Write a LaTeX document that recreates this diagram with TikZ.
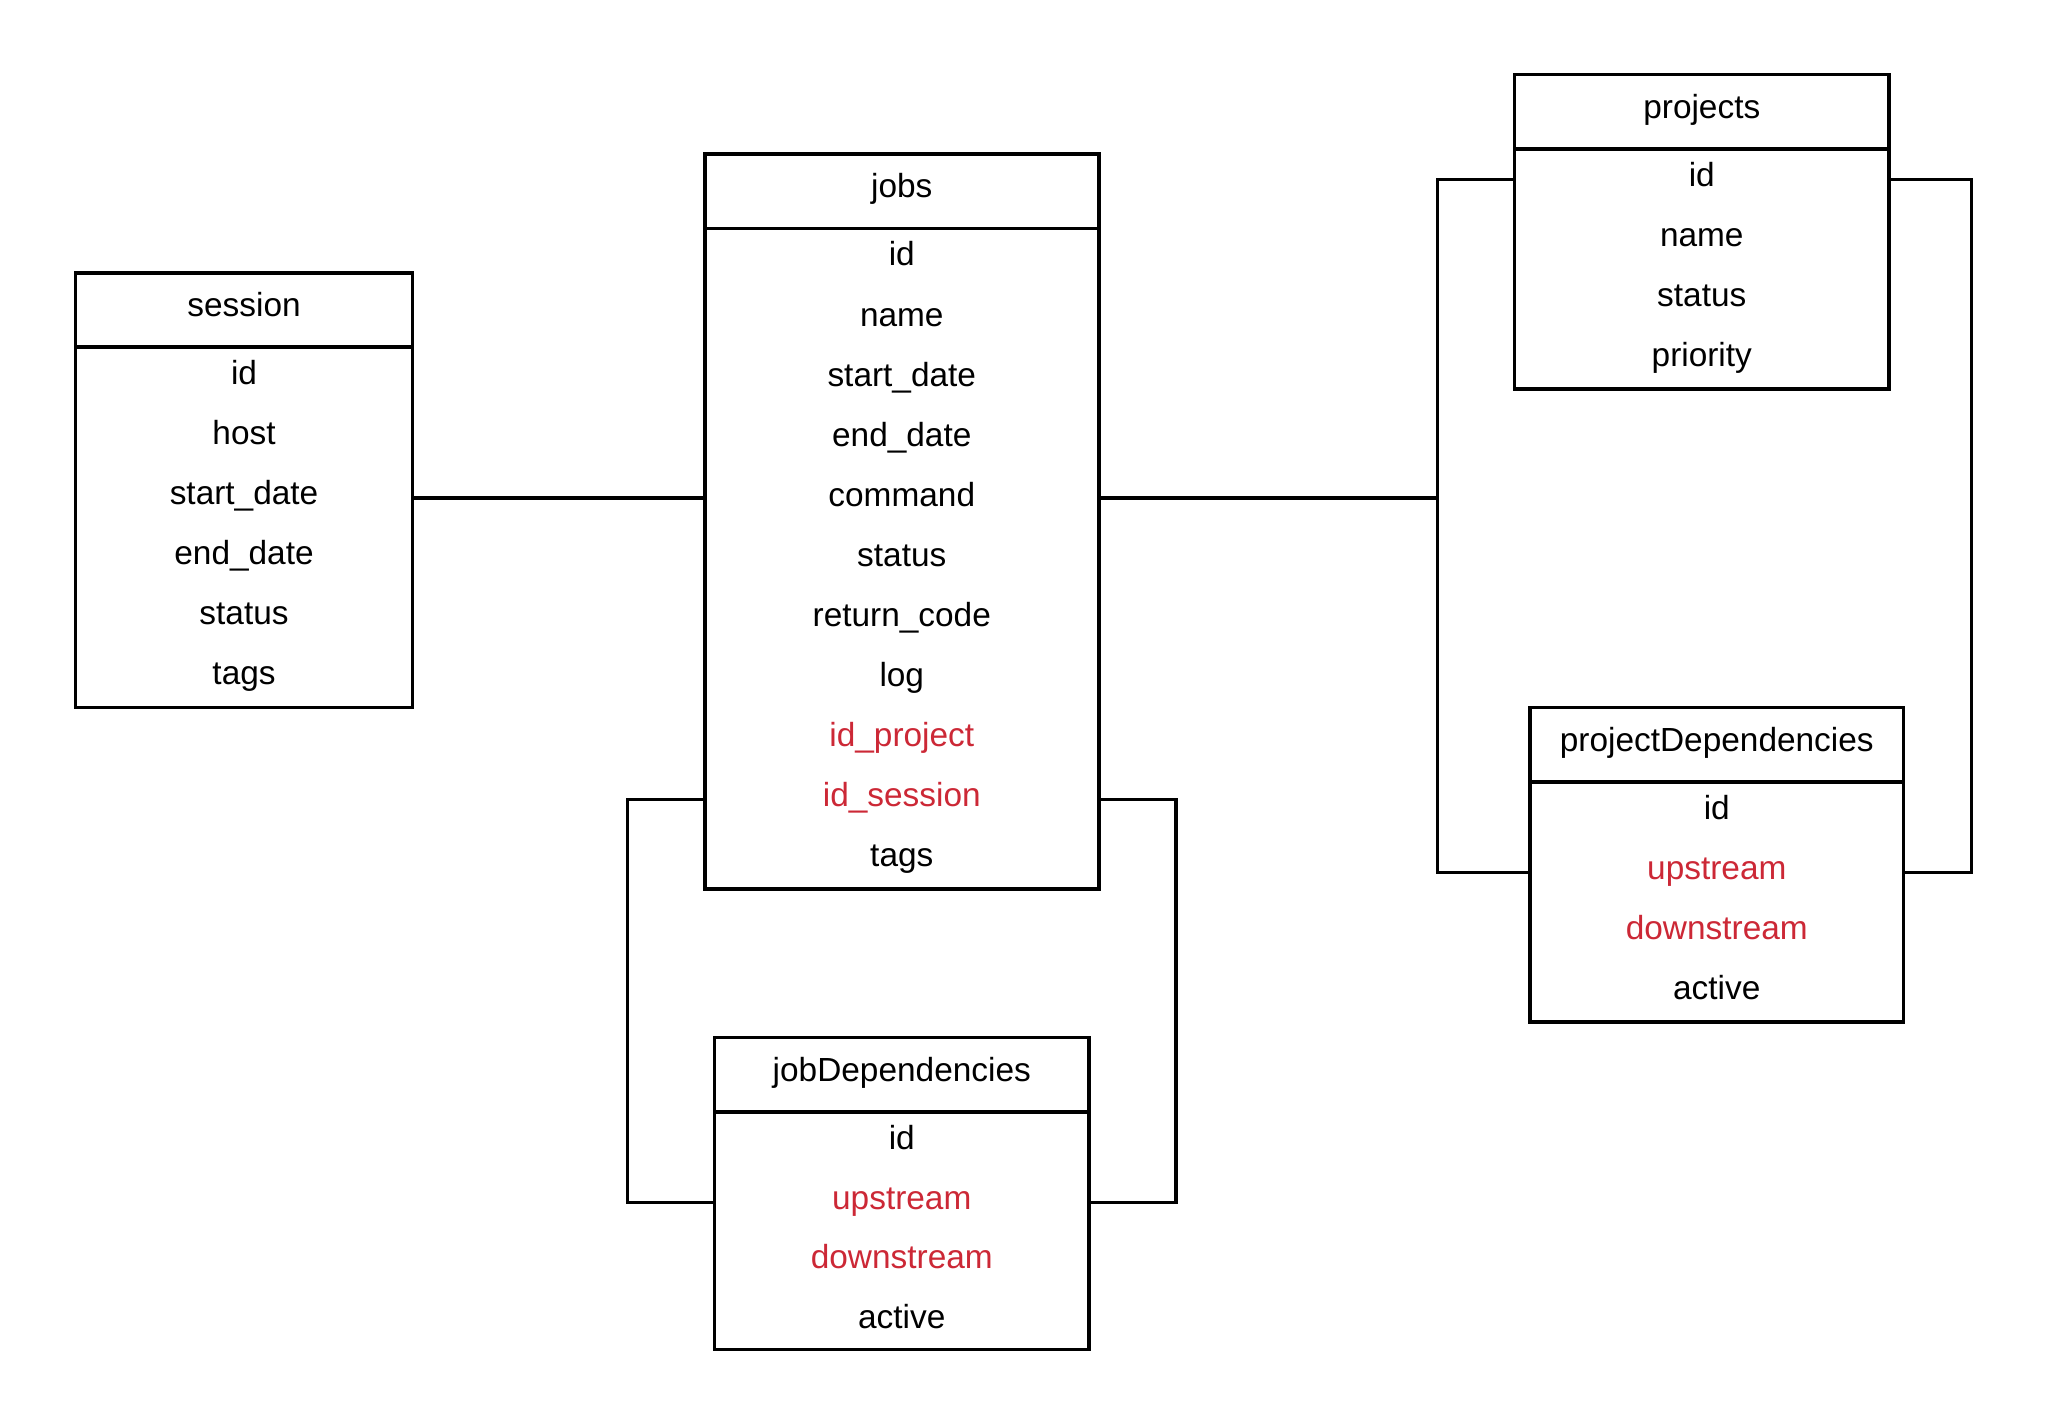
\documentclass[tikz,border=0pt]{standalone}
\usepackage{fontspec}
\setmainfont{Liberation Sans}
\usepackage{xcolor}
\usetikzlibrary{positioning,calc}
\definecolor{keyred}{RGB}{204,40,54}
\newcommand{\unitpx}{0.6525pt}
\tikzstyle{head} = [draw, rectangle, line width=1.8pt, outer sep=0pt, inner sep=0pt,
minimum height=57*\unitpx, text height=12pt, text depth=5.2pt]
\tikzstyle{body} = [draw, rectangle, line width=1.8pt, outer sep=0pt, inner sep=0pt]
\tikzstyle{field} = [anchor=base, inner sep=0pt, text height=12pt, text depth=5.2pt]
\tikzstyle{key} = [field, text=keyred]
\tikzstyle{link} = [line width=1.7pt]

\begin{document}
\begin{tikzpicture}[x=\unitpx, y=-\unitpx, font=\fontsize{16.7pt}{20pt}\selectfont]
	\useasboundingbox (0,0) rectangle (1569.3,1093.5);
	% We start by placing the tables: a header, a frame and the fields
	\node [head, anchor=north, minimum width=258*\unitpx] (session) at (187,209) {session};
	\node [body, below=0pt of session, minimum width=258*\unitpx, minimum height=276*\unitpx] (session-body) {};
	\foreach \f/\s [count=\i] in {id/field, host/field, start\_date/field, end\_date/field, status/field, tags/field}
		\node [\s] (session-\i) at ($(session-body.north)+(0,{28.8+(\i-1)*46})$) {\f};

	\node [head, anchor=north, minimum width=302*\unitpx] (jobs) at (691,118) {jobs};
	\node [body, below=0pt of jobs, minimum width=302*\unitpx, minimum height=506*\unitpx] (jobs-body) {};
	\foreach \f/\s [count=\i] in {id/field, name/field, start\_date/field, end\_date/field, command/field,
		status/field, return\_code/field, log/field, id\_project/key, id\_session/key, tags/field}
		\node [\s] (jobs-\i) at ($(jobs-body.north)+(0,{28.8+(\i-1)*46})$) {\f};

	\node [head, anchor=north, minimum width=287*\unitpx] (projects) at (1304,57) {projects};
	\node [body, below=0pt of projects, minimum width=287*\unitpx, minimum height=184*\unitpx] (projects-body) {};
	\foreach \f/\s [count=\i] in {id/field, name/field, status/field, priority/field}
		\node [\s] (projects-\i) at ($(projects-body.north)+(0,{28.8+(\i-1)*46})$) {\f};

	\node [head, anchor=north, minimum width=286*\unitpx] (prjdeps) at (1315.5,542) {projectDependencies};
	\node [body, below=0pt of prjdeps, minimum width=286*\unitpx, minimum height=184*\unitpx] (prjdeps-body) {};
	\foreach \f/\s [count=\i] in {id/field, upstream/key, downstream/key, active/field}
		\node [\s] (prjdeps-\i) at ($(prjdeps-body.north)+(0,{28.8+(\i-1)*46})$) {\f};

	\node [head, anchor=north, minimum width=287*\unitpx] (jobdeps) at (691,795) {jobDependencies};
	\node [body, below=0pt of jobdeps, minimum width=287*\unitpx, minimum height=182*\unitpx] (jobdeps-body) {};
	\foreach \f/\s [count=\i] in {id/field, upstream/key, downstream/key, active/field}
		\node [\s] (jobdeps-\i) at ($(jobdeps-body.north)+(0,{28.8+(\i-1)*45.7})$) {\f};

	% Once the tables are placed, the links run between their fields
	\draw [link] (session-body.east |- session-3) -- (jobs-body.west |- session-3);

	\coordinate (ptrunk) at ($(projects-body.west |- session-3)+(-59,0)$);
	\draw [link] (jobs-body.east |- session-3) -- (ptrunk);
	\draw [link] (projects-body.west |- projects-1) -| (ptrunk |- prjdeps-2) -- (prjdeps-body.west |- prjdeps-2);

	\coordinate (pright) at ($(projects-body.east |- projects-1)+(63,0)$);
	\draw [link] (projects-body.east |- projects-1) -- (pright) |- (prjdeps-body.east |- prjdeps-2);

	\draw [link] (jobs-body.west |- jobs-10) -- ++(-59,0) |- (jobdeps-body.west |- jobdeps-2);
	\draw [link] (jobs-body.east |- jobs-10) -- ++(59,0) |- (jobdeps-body.east |- jobdeps-2);
\end{tikzpicture}
\end{document}
